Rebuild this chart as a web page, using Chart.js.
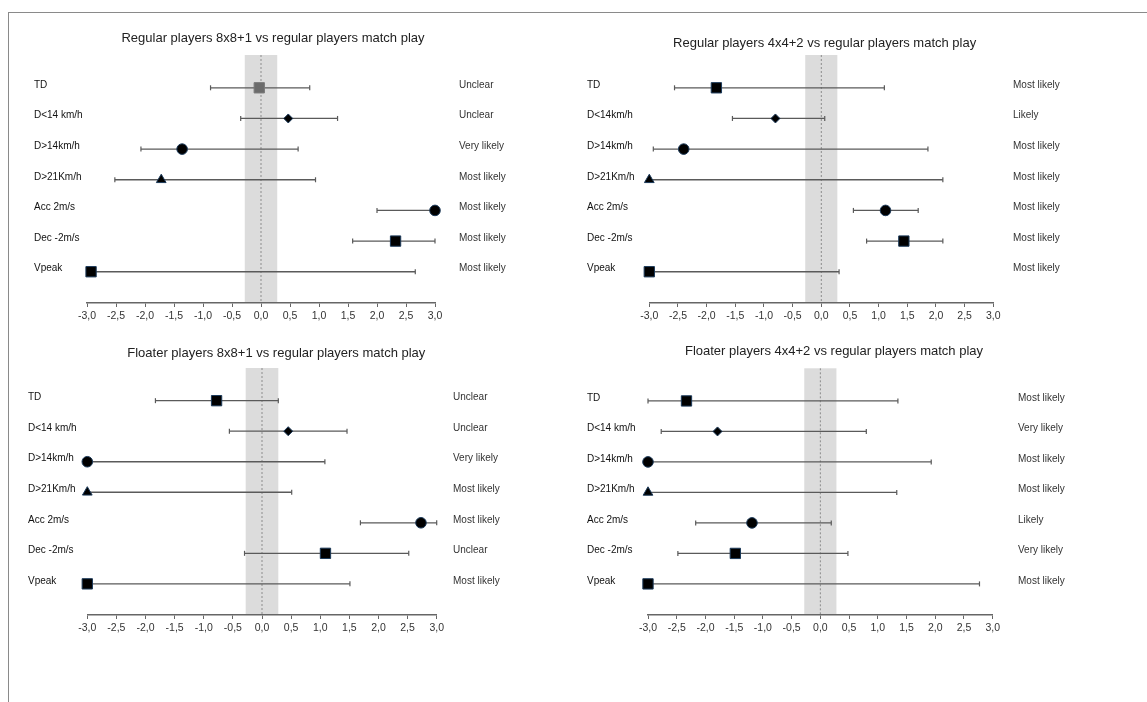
<!DOCTYPE html>
<html>
<head>
<meta charset="utf-8">
<script src="https://cdn.jsdelivr.net/npm/chart.js@4.4.1/dist/chart.umd.min.js"></script>
<style>
  html, body { margin: 0; padding: 0; background: #fff; }
  #frame { position: absolute; left: 8px; top: 12px; width: 1160px; height: 700px;
           border-left: 1.5px solid #8a8a8a; border-top: 1.5px solid #8a8a8a; }
  canvas { position: absolute; }
</style>
</head>
<body>
<div id="frame"></div>
<canvas id="c1" width="534" height="317" style="left:14px;top:20px"></canvas>
<canvas id="c2" width="530" height="317" style="left:570px;top:20px"></canvas>
<canvas id="c3" width="546" height="314" style="left:14px;top:335px"></canvas>
<canvas id="c4" width="570" height="314" style="left:570px;top:335px"></canvas>
<script>
// Datos (tamaño del efecto y límites del intervalo)
const rowLabels = ['TD', 'D<14 km/h', 'D>14km/h', 'D>21Km/h', 'Acc 2m/s', 'Dec -2m/s', 'Vpeak'];
const rowLabelsAlt = ['TD', 'D<14km/h', 'D>14km/h', 'D>21Km/h', 'Acc 2m/s', 'Dec -2m/s', 'Vpeak'];
const xTickValues = [-3, -2.5, -2, -1.5, -1, -0.5, 0, 0.5, 1, 1.5, 2, 2.5, 3];
const trivialLimit = 0.28;

// Regular players 8x8+1
const reg8Mean = [-0.03, 0.47, -1.36, -1.72, 3.0, 2.32, -2.93];
const reg8Low = [-0.87, -0.35, -2.07, -2.52, 2.0, 1.58, -3.0];
const reg8High = [0.84, 1.32, 0.64, 0.94, 3.0, 3.0, 2.66];
const reg8Chance = ['Unclear', 'Unclear', 'Very likely', 'Most likely', 'Most likely', 'Most likely', 'Most likely'];

// Regular players 4x4+2
const reg4Mean = [-1.83, -0.80, -2.40, -3.0, 1.12, 1.44, -3.0];
const reg4Low = [-2.56, -1.55, -2.93, -3.0, 0.56, 0.79, -3.0];
const reg4High = [1.10, 0.06, 1.86, 2.12, 1.69, 2.12, 0.31];
const reg4Chance = ['Most likely', 'Likely', 'Most likely', 'Most likely', 'Most likely', 'Most likely', 'Most likely'];

// Floater players 8x8+1
const flo8Mean = [-0.78, 0.45, -3.0, -3.0, 2.73, 1.09, -3.0];
const flo8Low = [-1.83, -0.56, -3.0, -3.0, 1.69, -0.30, -3.0];
const flo8High = [0.28, 1.46, 1.08, 0.51, 3.0, 2.52, 1.51];
const flo8Chance = ['Unclear', 'Unclear', 'Very likely', 'Most likely', 'Most likely', 'Unclear', 'Most likely'];

// Floater players 4x4+2
const flo4Mean = [-2.33, -1.79, -3.0, -3.0, -1.19, -1.48, -3.0];
const flo4Low = [-3.0, -2.77, -3.0, -3.0, -2.17, -2.48, -3.0];
const flo4High = [1.35, 0.80, 1.93, 1.33, 0.19, 0.48, 2.77];
const flo4Chance = ['Most likely', 'Very likely', 'Most likely', 'Most likely', 'Likely', 'Very likely', 'Most likely'];

// Estilo de los marcadores por fila
const markerShapes = ['rect', 'rectRot', 'circle', 'triangle', 'circle', 'rect', 'rect'];
const markerSizes = { rect: 7.3, rectRot: 4.5, circle: 5.3, triangle: 5.6 };

const FONT = "'Liberation Sans', Arial, sans-serif";

// Banda gris del efecto trivial y línea punteada en 0
const bandPlugin = {
  id: 'trivialBand',
  beforeDraw(chart) {
    const { ctx, chartArea, scales: { x } } = chart;
    const l = x.getPixelForValue(-trivialLimit);
    const r = x.getPixelForValue(trivialLimit);
    const z = x.getPixelForValue(0);
    ctx.save();
    ctx.fillStyle = '#dcdcdc';
    ctx.fillRect(l, chartArea.top, r - l, chartArea.bottom - chartArea.top);
    ctx.strokeStyle = '#8c8c8c';
    ctx.lineWidth = 1;
    ctx.setLineDash([2, 2]);
    ctx.beginPath();
    ctx.moveTo(z, chartArea.top);
    ctx.lineTo(z, chartArea.bottom);
    ctx.stroke();
    ctx.restore();
  }
};

const fmtTick = (v) => v.toFixed(1).replace('.', ',');

const makePanel = (id, cfg) => {
  const datasets = [];

  // Puntos (estimación)
  datasets.push({
    data: cfg.mean.map((v, i) => ({ x: v, y: i })),
    pointStyle: markerShapes,
    pointRadius: markerShapes.map(s => markerSizes[s]),
    backgroundColor: cfg.mean.map((v, i) => (cfg.grayFirst && i === 0) ? '#6b6b6b' : '#000'),
    borderColor: cfg.mean.map((v, i) => (cfg.grayFirst && i === 0) ? '#7a7a7a' : '#1c3a5a'),
    borderWidth: 1,
    clip: false,
    order: 0
  });

  // Intervalos (barras de error)
  cfg.low.forEach((lo, i) => {
    datasets.push({
      data: [{ x: lo, y: i }, { x: cfg.high[i], y: i }],
      showLine: true,
      borderColor: '#5a5a5a',
      borderWidth: 1.3,
      pointStyle: 'line',
      rotation: 90,
      pointRadius: 2.5,
      pointBorderWidth: 1.2,
      pointBorderColor: '#5a5a5a',
      clip: false,
      order: 1
    });
  });

  const rowTicks = axis => { axis.ticks = cfg.labels.map((_, i) => ({ value: i })); };

  return new Chart(document.getElementById(id), {
    type: 'scatter',
    data: { datasets },
    options: {
      responsive: false,
      animation: false,
      events: [],
      layout: { padding: { left: cfg.padL, right: cfg.padR, top: 0, bottom: 0 } },
      plugins: {
        legend: { display: false },
        tooltip: { enabled: false },
        title: {
          display: true,
          text: cfg.title,
          color: '#222',
          font: { family: FONT, size: 13, weight: 'normal' },
          padding: { top: cfg.titleTop, bottom: cfg.titleBottom }
        }
      },
      scales: {
        x: {
          type: 'linear',
          min: -3,
          max: 3,
          afterBuildTicks: axis => { axis.ticks = xTickValues.map(v => ({ value: v })); },
          afterFit: axis => { axis.height = 34; },
          grid: { drawOnChartArea: false, drawTicks: true, tickLength: 4, color: '#666', lineWidth: 1 },
          border: { display: true, color: '#666', width: 1.5 },
          ticks: {
            autoSkip: false,
            maxRotation: 0,
            padding: 3,
            color: '#333',
            font: { family: FONT, size: 10.5 },
            callback: v => fmtTick(v)
          }
        },
        y: {
          type: 'linear',
          position: 'left',
          reverse: true,
          min: -1.07,
          max: 7.02,
          afterBuildTicks: rowTicks,
          afterFit: axis => { axis.width = cfg.leftW; },
          grid: { display: false, drawTicks: false },
          border: { display: false },
          ticks: {
            autoSkip: false,
            crossAlign: 'far',
            labelOffset: -3,
            color: '#111',
            font: { family: FONT, size: 10 },
            callback: v => cfg.labels[v]
          }
        },
        y2: {
          type: 'linear',
          position: 'right',
          reverse: true,
          min: -1.07,
          max: 7.02,
          afterBuildTicks: rowTicks,
          afterFit: axis => { axis.width = cfg.rightW; },
          grid: { display: false, drawTicks: false },
          border: { display: false },
          ticks: {
            autoSkip: false,
            crossAlign: 'near',
            padding: cfg.rightPad,
            labelOffset: -3,
            color: '#333',
            font: { family: FONT, size: 10 },
            callback: v => cfg.chance[v]
          }
        }
      }
    },
    plugins: [bandPlugin]
  });
};

makePanel('c1', {
  title: 'Regular players 8x8+1 vs regular players match play',
  labels: rowLabels, mean: reg8Mean, low: reg8Low, high: reg8High, chance: reg8Chance,
  grayFirst: true,
  padL: 20, padR: 36, leftW: 53, rightW: 77, rightPad: 24, titleTop: 10.5, titleBottom: 8.9
});

makePanel('c2', {
  title: 'Regular players 4x4+2 vs regular players match play',
  labels: rowLabelsAlt, mean: reg4Mean, low: reg4Low, high: reg4High, chance: reg4Chance,
  padL: 17, padR: 37.7, leftW: 62.3, rightW: 69, rightPad: 19.7, titleTop: 15.5, titleBottom: 3.9
});

makePanel('c3', {
  title: 'Floater players 8x8+1 vs regular players match play',
  labels: rowLabels, mean: flo8Mean, low: flo8Low, high: flo8High, chance: flo8Chance,
  padL: 14, padR: 35.4, leftW: 59.3, rightW: 87.9, rightPad: 16.3, titleTop: 10.2, titleBottom: 7.2
});

makePanel('c4', {
  title: 'Floater players 4x4+2 vs regular players match play',
  labels: rowLabels, mean: flo4Mean, low: flo4Low, high: flo4High, chance: flo4Chance,
  padL: 17, padR: 59, leftW: 61, rightW: 88.3, rightPad: 25.3, titleTop: 8.9, titleBottom: 8.8
});
</script>
</body>
</html>
